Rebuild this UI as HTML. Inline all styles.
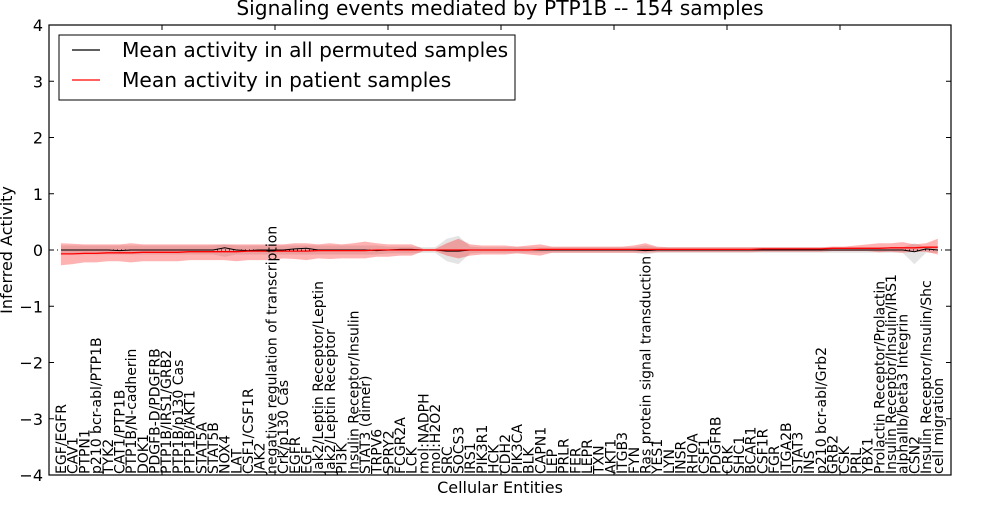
<!DOCTYPE html>
<html><head><meta charset="utf-8"><style>
body{margin:0;background:#fff}
svg text{font-family:"DejaVu Sans","Liberation Sans",sans-serif}
</style></head><body>
<svg id="chart" width="1000" height="500" xmlns="http://www.w3.org/2000/svg">
<rect width="1000" height="500" fill="#fff"/>
<text x="500" y="15" font-size="20.2" text-anchor="middle">Signaling events mediated by PTP1B -- 154 samples</text>
<g id="bands"></g>
<g id="lines"></g>
<g id="axes"></g>
<g id="labels"></g>
<text x="500" y="493" font-size="16" text-anchor="middle">Cellular Entities</text>
<text transform="translate(12,250) rotate(-90)" font-size="16" text-anchor="middle">Inferred Activity</text>
<g>
<rect x="59" y="35" width="456" height="65" fill="#fff" stroke="#000" stroke-width="1"/>
<line x1="72" y1="50" x2="100" y2="50" stroke="#000" stroke-width="1.2"/>
<text x="122" y="57" font-size="20.2">Mean activity in all permuted samples</text>
<line x1="72" y1="80" x2="100" y2="80" stroke="#f00" stroke-width="1.2"/>
<text x="122" y="87" font-size="20.2">Mean activity in patient samples</text>
</g>
</svg>
<script>
const categories=["EGF/EGFR","CAV1","PTPN1","p210 bcr-abl/PTP1B","TYK2","CAT1/PTP1B","PTP1B/N-cadherin","DOK1","PDGFB-D/PDGFRB","PTP1B/IRS1/GRB2","PTP1B/p130 Cas","PTP1B/AKT1","STAT5A","STAT5B","NOX4","LAT","CSF1/CSF1R","JAK2","negative regulation of transcription","Crk/p130 Cas","EGFR","EGF","Jak2/Leptin Receptor/Leptin","Jak2/Leptin Receptor","PI3K","Insulin Receptor/Insulin","STAT3 (dimer)","TRPV6","SPRY2","FCGR2A","LCK","mol:NADPH","mol:H2O2","SRC","SOCS3","IRS1","PIK3R1","HCK","CDH2","PIK3CA","BLK","CAPN1","LEP","PRLR","FER","LEPR","TXN","AKT1","ITGB3","FYN","Ras protein signal transduction","YES1","LYN","INSR","RHOA","CSF1","PDGFRB","CRK","SHC1","BCAR1","CSF1R","FGR","ITGA2B","STAT3","INS","p210 bcr-abl/Grb2","GRB2","CSK","PRL","YBX1","Prolactin Receptor/Prolactin","Insulin Receptor/Insulin/IRS1","alphaIIb/beta3 Integrin","CSN2","Insulin Receptor/Insulin/Shc","cell migration"];
const redMean=[-0.07,-0.07,-0.06,-0.06,-0.05,-0.05,-0.05,-0.04,-0.04,-0.04,-0.04,-0.03,-0.03,-0.03,-0.03,-0.03,-0.02,-0.02,-0.02,-0.02,-0.02,-0.02,-0.01,-0.01,-0.01,-0.01,-0.01,0,0,0,0,0,0,0,0,0,0,0,0,0,0,0.01,0.01,0.01,0.01,0.01,0.01,0.01,0.01,0.01,0.01,0.01,0.01,0.01,0.01,0.01,0.01,0.01,0.01,0.01,0.02,0.02,0.02,0.02,0.02,0.02,0.03,0.03,0.03,0.03,0.03,0.04,0.04,0.04,0.05,0.05];
const redHi=[0.12,0.11,0.1,0.1,0.1,0.1,0.12,0.1,0.1,0.1,0.1,0.1,0.1,0.1,0.1,0.1,0.1,0.1,0.1,0.1,0.12,0.12,0.1,0.12,0.1,0.12,0.15,0.12,0.1,0.1,0.1,0.02,0.02,0.12,0.2,0.1,0.08,0.08,0.08,0.06,0.08,0.1,0.06,0.06,0.06,0.06,0.06,0.06,0.06,0.08,0.12,0.06,0.05,0.05,0.05,0.05,0.05,0.05,0.05,0.05,0.05,0.05,0.05,0.05,0.05,0.05,0.06,0.06,0.08,0.1,0.12,0.12,0.14,0.1,0.12,0.2];
const redLo=[-0.27,-0.25,-0.22,-0.22,-0.2,-0.2,-0.22,-0.2,-0.2,-0.2,-0.2,-0.18,-0.18,-0.18,-0.18,-0.2,-0.18,-0.18,-0.18,-0.15,-0.16,-0.18,-0.15,-0.16,-0.15,-0.15,-0.15,-0.12,-0.12,-0.1,-0.1,-0.02,-0.02,-0.1,-0.15,-0.1,-0.08,-0.08,-0.08,-0.06,-0.08,-0.1,-0.05,-0.05,-0.05,-0.05,-0.05,-0.05,-0.05,-0.05,-0.05,-0.04,-0.04,-0.04,-0.04,-0.04,-0.04,-0.04,-0.04,-0.04,-0.03,-0.03,-0.03,-0.03,-0.03,-0.03,-0.02,-0.02,-0.02,-0.02,-0.04,-0.03,-0.05,-0.03,-0.03,-0.08];
const blackMean=[0,0,0,0,0,-0.01,0,0,0,0,0,0,0,0,0.04,0,-0.01,0,0,0,0.02,0.03,0,0,0,0,0,-0.01,0,0.01,0.01,0,0,-0.02,-0.02,0,0,0,0,0,0,0,0,0,0,0,0,0,0,0,-0.01,0,0,0,0,0,0,0,0,0,0,0,0,0,0,0,0,0,0,0,0,0,0,-0.03,0.02,0];
const greyHi=[0.08,0.08,0.08,0.08,0.08,0.08,0.08,0.08,0.08,0.08,0.08,0.08,0.08,0.08,0.1,0.08,0.08,0.08,0.08,0.08,0.08,0.08,0.08,0.08,0.08,0.08,0.08,0.08,0.06,0.06,0.06,0.05,0.05,0.2,0.25,0.06,0.05,0.05,0.05,0.05,0.05,0.05,0.05,0.05,0.05,0.05,0.05,0.05,0.05,0.05,0.08,0.05,0.05,0.05,0.05,0.05,0.05,0.05,0.05,0.05,0.05,0.05,0.05,0.05,0.05,0.05,0.05,0.05,0.05,0.05,0.05,0.05,0.05,0.12,0.05,0.05];
const greyLo=[-0.08,-0.08,-0.08,-0.08,-0.08,-0.08,-0.08,-0.08,-0.08,-0.08,-0.08,-0.08,-0.08,-0.08,-0.12,-0.08,-0.08,-0.08,-0.08,-0.08,-0.08,-0.08,-0.08,-0.08,-0.08,-0.08,-0.08,-0.08,-0.06,-0.06,-0.06,-0.05,-0.05,-0.2,-0.25,-0.06,-0.05,-0.05,-0.05,-0.05,-0.05,-0.05,-0.05,-0.05,-0.05,-0.05,-0.05,-0.05,-0.05,-0.05,-0.08,-0.05,-0.05,-0.05,-0.05,-0.05,-0.05,-0.05,-0.05,-0.05,-0.05,-0.05,-0.05,-0.05,-0.05,-0.05,-0.05,-0.05,-0.05,-0.05,-0.05,-0.05,-0.05,-0.25,-0.05,-0.05];
const yTicks=[4,3,2,1,0,-1,-2,-3,-4];
const NS="http://www.w3.org/2000/svg";
const L=49,R=951,T=25,B=475;
function xs(i){return 61+i*11.69;}
function ys(v){return 250-v*56.25;}
function mk(tag,attrs,parent){const e=document.createElementNS(NS,tag);for(const k in attrs)e.setAttribute(k,attrs[k]);parent.appendChild(e);return e;}
const bands=document.getElementById('bands'),lines=document.getElementById('lines'),axes=document.getElementById('axes'),labels=document.getElementById('labels');
function bandPath(hi,lo){let d='';hi.forEach((v,i)=>{d+=(i?'L':'M')+xs(i).toFixed(1)+','+ys(v).toFixed(1);});for(let i=lo.length-1;i>=0;i--)d+='L'+xs(i).toFixed(1)+','+ys(lo[i]).toFixed(1);return d+'Z';}
function linePath(a){return a.map((v,i)=>(i?'L':'M')+xs(i).toFixed(1)+','+ys(v).toFixed(1)).join('');}
const gb=mk('path',{d:bandPath(greyHi,greyLo),fill:'#bbb','fill-opacity':'0.4'},bands);


const rb=mk('path',{d:bandPath(redHi,redLo),fill:'#f00','fill-opacity':'0.3'},bands);


const zl=mk('line',{x1:L,x2:R,y1:ys(0),y2:ys(0),stroke:'#000','stroke-dasharray':'1,3','stroke-width':1},lines);


const bl=mk('path',{d:linePath(blackMean),fill:'none',stroke:'#000','stroke-width':1},lines);


const rl=mk('path',{d:linePath(redMean),fill:'none',stroke:'#f00','stroke-width':1.3},lines);


const frame=mk('rect',{x:L,y:T,width:R-L,height:B-T,fill:'none',stroke:'#000','stroke-width':1.2},axes);


yTicks.forEach(v=>{
 mk('line',{x1:L,x2:L+5,y1:ys(v),y2:ys(v),stroke:'#000'},axes);
 mk('line',{x1:R,x2:R-5,y1:ys(v),y2:ys(v),stroke:'#000'},axes);
 const t=mk('text',{x:L-6,y:ys(v)+6,'font-size':16,'text-anchor':'end'},axes);
 
 
 t.textContent=(v<0?'\u2212':'')+Math.abs(v);
});
for(let k=1;k<8;k++){const x=L+113*k;mk('line',{x1:x,x2:x,y1:T,y2:T+5,stroke:'#000'},axes);mk('line',{x1:x,x2:x,y1:B,y2:B-5,stroke:'#000'},axes);}
categories.forEach((c,i)=>{
 const x=xs(i)+5;
 const t=mk('text',{transform:`translate(${x.toFixed(1)},${B-1}) rotate(-90)`,'font-size':14},labels);
 
 
 t.textContent=c;
});
</script>
</body></html>
